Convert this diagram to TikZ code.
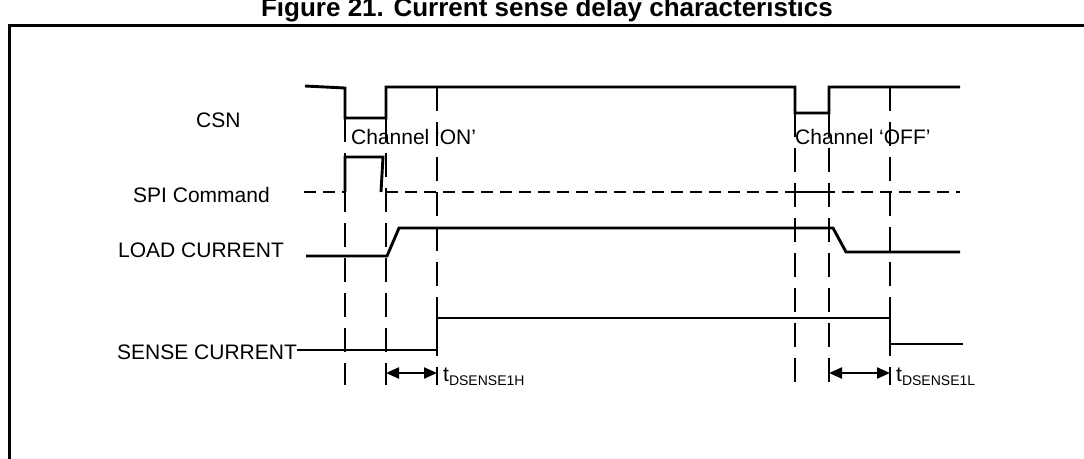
\documentclass[tikz,border=0pt]{standalone}
\usepackage{fontspec}
\setmainfont{Liberation Sans}
\usetikzlibrary{arrows.meta}
\begin{document}
\begin{tikzpicture}[x=1pt,y=-1pt,
  sig/.style={line width=2.9pt, line join=miter},
  gridline/.style={line width=2.4pt, dash pattern=on 24pt off 11pt},
  bus/.style={line width=2.9pt, dash pattern=on 12pt off 7pt},
  lbl/.style={font=\fontsize{21}{21}\selectfont, inner sep=0pt, anchor=base west},
  tarrow/.style={line width=2.2pt, {Triangle[length=13pt,width=11pt]}-{Triangle[length=13pt,width=11pt]}}]
\useasboundingbox (0,0) rectangle (1084,458);
\clip (0,0) rectangle (1084,458);
% frame and title
\draw[line width=3pt] (9,470) -- (9,25) -- (1090,25);
\node[font=\bfseries\fontsize{26}{26}\selectfont, anchor=base, inner sep=0pt] (title) at (547,16) {Figure 21. Current sense delay characteristics};
% signal labels
\node[lbl] (csn) at (196,127) {CSN};
\node[lbl] (spi) at (133,202) {SPI Command};
\node[lbl] (load) at (118,257) {LOAD CURRENT};
\node[lbl] (sense) at (117,359) {SENSE CURRENT};
\node[lbl] (chon) at (351,144) {Channel ‘ON’};
\node[lbl] (choff) at (795,144) {Channel ‘OFF’};
% vertical markers
\draw[gridline] (345,118) -- (345,385);
\draw[gridline] (386,118) -- (386,385);
\draw[gridline] (437,87) -- (437,385);
\draw[gridline] (795,113) -- (795,385);
\draw[gridline] (829,113) -- (829,385);
\draw[gridline] (890,87) -- (890,385);
% CSN
\draw[sig] (305,86) -- (345,88) -- (345,118) -- (386,118) -- (386,87) -- (795,87) -- (795,113) -- (829,113) -- (829,87) -- (960,87);
% SPI command
\draw[bus] (304,192) -- (345,192);
\draw[bus] (386,192) -- (960,192);
\draw[sig] (345,192) -- (345,157) -- (383,157) -- (381,192);
\draw[sig] (795,192) -- (829,192);
% load current
\draw[sig] (306,256) -- (387,256) -- (399,228) -- (833,228) -- (846,252) -- (960,252);
% sense current
\draw[sig] (297,350) -- (437,350) -- (437,318) -- (890,318) -- (890,344) -- (963,344);
% delays
\coordinate (a1) at (386,373);
\coordinate (b1) at (437,373);
\coordinate (a2) at (829,373);
\coordinate (b2) at (890,373);
\draw[tarrow] (a1) -- (b1);
\draw[tarrow] (a2) -- (b2);
\node[lbl] (t1) at (443,381) {t\raisebox{-4pt}{\fontsize{14}{14}\selectfont DSENSE1H}};
\node[lbl] (t2) at (896,381) {t\raisebox{-4pt}{\fontsize{14}{14}\selectfont DSENSE1L}};
\end{tikzpicture}
\end{document}
